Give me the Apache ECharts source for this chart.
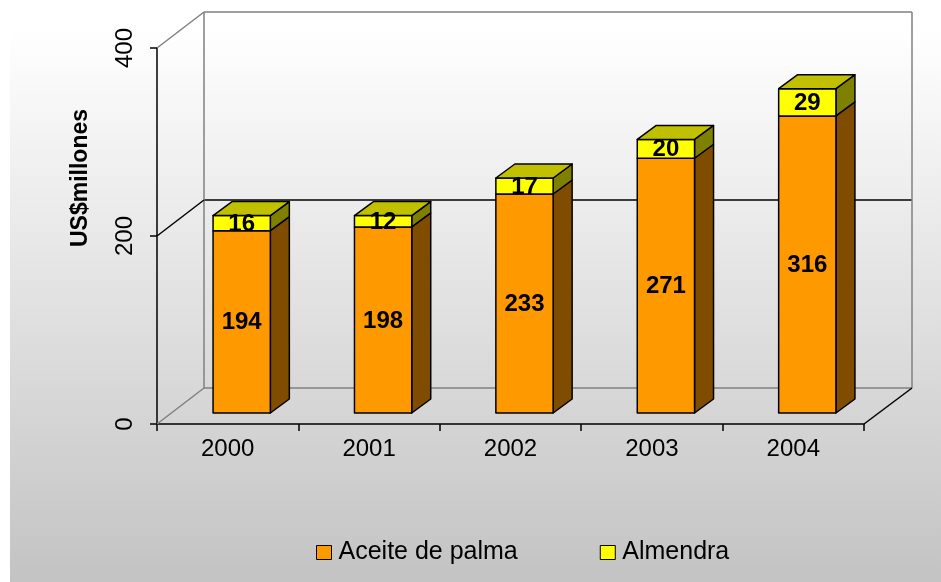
<!DOCTYPE html>
<html><head><meta charset="utf-8">
<script src="https://cdn.jsdelivr.net/npm/echarts@6/dist/echarts.min.js"></script>
<style>html,body{margin:0;padding:0;background:#fff}#c{width:941px;height:582px}</style>
</head><body><div id="c"></div>
<script>
const categories = ['2000', '2001', '2002', '2003', '2004'];
const palma = [194, 198, 233, 271, 316];
const almendra = [16, 12, 17, 20, 29];
const seriesNames = ['Aceite de palma', 'Almendra'];
const yTicks = [0, 200, 400];

const FONT = 'Arial, "Liberation Sans", sans-serif';
const DX = 19, DY = -14;

function makeRender(front, side, topC) {
  return function (params, api) {
    const xi = api.value(0), base = api.value(1), top = api.value(2), v = api.value(3);
    const isTop = api.value(4) === 1;
    const p0 = api.coord([xi, base]);
    const p1 = api.coord([xi, top]);
    const w = api.size([1, 0])[0] * 0.405;
    const x0 = p0[0] - w / 2, x1 = p0[0] + w / 2, yb = p0[1], yt = p1[1];
    const ls = { stroke: '#000', lineWidth: 1.5, lineJoin: 'round' };
    const ch = [
      { type: 'polygon', shape: { points: [[x1, yb], [x1 + DX, yb + DY], [x1 + DX, yt + DY], [x1, yt]] }, style: Object.assign({ fill: side }, ls) },
      { type: 'rect', shape: { x: x0, y: yt, width: w, height: yb - yt }, style: Object.assign({ fill: front }, ls) }
    ];
    if (isTop) {
      ch.push({ type: 'polygon', shape: { points: [[x0, yt], [x0 + DX, yt + DY], [x1 + DX, yt + DY], [x1, yt]] }, style: Object.assign({ fill: topC }, ls) });
    }
    ch.push({ type: 'text', style: { text: String(v), x: (x0 + x1) / 2, y: (yt + yb) / 2 + 1, align: 'center', verticalAlign: 'middle', font: 'bold 24px ' + FONT, fill: '#000' } });
    return { type: 'group', children: ch };
  };
}

const chart = echarts.init(document.getElementById('c'));
const option = {
  animation: false,
  backgroundColor: '#fff',
  graphic: [
    { type: 'rect', z: -100, silent: true, shape: { x: 10, y: 28, width: 931, height: 554 },
      style: { fill: new echarts.graphic.LinearGradient(0, 0, 0, 1, [{ offset: 0, color: '#ffffff' }, { offset: 1, color: '#c3c3c3' }]) } },
    { type: 'line', z: 1, shape: { x1: 157, y1: 48, x2: 204, y2: 12 }, style: { stroke: '#808080', lineWidth: 1.5 } },
    { type: 'line', z: 1, shape: { x1: 157, y1: 236, x2: 204, y2: 200 }, style: { stroke: '#000', lineWidth: 1.5 } },
    { type: 'line', z: 1, shape: { x1: 157, y1: 424, x2: 204, y2: 388 }, style: { stroke: '#808080', lineWidth: 1.5 } },
    { type: 'line', z: 1, shape: { x1: 864, y1: 424, x2: 912, y2: 388 }, style: { stroke: '#000', lineWidth: 1.5 } },
    { type: 'text', z: 5, x: 81, y: 178, rotation: Math.PI / 2,
      style: { text: 'US$millones', font: 'bold 23px ' + FONT, fill: '#000', align: 'center', verticalAlign: 'middle' } }
  ],
  legend: {
    left: 316, top: 540, padding: 0, itemWidth: 15, itemHeight: 14, itemGap: 82, icon: 'rect',
    itemStyle: { borderColor: '#000', borderWidth: 1 },
    textStyle: { fontFamily: FONT, fontSize: 25, color: '#000', padding: [0, 0, 0, 2] },
    data: seriesNames
  },
  grid: [
    { left: 157, top: 48, width: 707, height: 376 },
    { left: 204, top: 12, width: 708, height: 376 },
    { left: 171, top: 37, width: 707, height: 376 }
  ],
  xAxis: [
    { gridIndex: 0, type: 'category', data: categories, boundaryGap: true,
      axisLine: { lineStyle: { color: '#000', width: 1.5 } },
      axisTick: { show: true, length: 7, interval: 0, lineStyle: { color: '#000', width: 1.5 } },
      axisLabel: { margin: 13, fontFamily: FONT, fontSize: 24, color: '#000' },
      splitLine: { show: false } },
    { gridIndex: 1, type: 'value', min: 0, max: 1, interval: 1,
      axisLine: { show: false }, axisTick: { show: false }, axisLabel: { show: false },
      splitLine: { show: true, lineStyle: { color: '#808080', width: 1.5 } } },
    { gridIndex: 2, type: 'category', data: categories, show: false }
  ],
  yAxis: [
    { gridIndex: 0, type: 'value', min: 0, max: 400, interval: 200,
      axisLine: { show: true, lineStyle: { color: '#000', width: 1.5 } },
      axisTick: { show: true, length: 7, lineStyle: { color: '#000', width: 1.5 } },
      axisLabel: { rotate: 90, margin: 20, fontFamily: FONT, fontSize: 24, color: '#000',
        formatter: function (v) { return yTicks.indexOf(v) >= 0 ? String(v) : ''; } },
      splitLine: { show: false } },
    { gridIndex: 1, type: 'value', min: 0, max: 400, interval: 200,
      axisLine: { show: false }, axisTick: { show: false }, axisLabel: { show: false },
      splitLine: { show: true, lineStyle: { color: ['#808080', '#000000', '#808080'], width: 1.5 } } },
    { gridIndex: 2, type: 'value', min: 0, max: 400, show: false }
  ],
  series: [
    { name: seriesNames[0], type: 'custom', xAxisIndex: 2, yAxisIndex: 2, z: 10,
      itemStyle: { color: '#FF9900' },
      renderItem: makeRender('#FF9900', '#7F4C00', '#C07300'),
      encode: { x: 0, y: 2 },
      data: palma.map((v, i) => [i, 0, v, v, 0]) },
    { name: seriesNames[1], type: 'custom', xAxisIndex: 2, yAxisIndex: 2, z: 11,
      itemStyle: { color: '#FFFF00' },
      renderItem: makeRender('#FFFF00', '#808000', '#C0C000'),
      encode: { x: 0, y: 2 },
      data: almendra.map((v, i) => [i, palma[i], palma[i] + v, v, 1]) }
  ]
};
chart.setOption(option);
</script>
</body></html>
